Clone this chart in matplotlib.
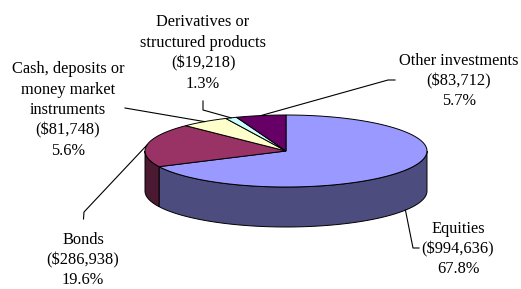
import numpy as np
import matplotlib
matplotlib.use('Agg')
import matplotlib.pyplot as plt
from matplotlib.patches import Polygon

# data
names = ['Equities', 'Bonds', 'Cash, deposits or\nmoney market\ninstruments',
         'Derivatives or\nstructured products', 'Other investments']
amounts = [994636, 286938, 81748, 19218, 83712]
pcts = ['67.8%', '19.6%', '5.6%', '1.3%', '5.7%']
top_colors = ['#9999FF', '#993366', '#FFFFCC', '#CCFFFF', '#660066']
side_colors = ['#4C4C7F', '#4C1933', '#7F7F66', '#667F7F', '#330033']

# pie geometry (pixels)
cx, cy = 286, 151
a, b = 141, 36
depth = 40

def pt(t, dy=0):
    r = np.radians(t)
    return cx + a * np.cos(r), cy - b * np.sin(r) + dy

fig = plt.figure(figsize=(5.21, 2.89), dpi=100)
ax = fig.add_axes([0, 0, 1, 1])
ax.set_xlim(0, 521)
ax.set_ylim(289, 0)
ax.axis('off')

frac = np.array(amounts) / sum(amounts)
ends = 90 - 360 * np.cumsum(frac)
starts = np.concatenate([[90], ends[:-1]])

# sides (front half only)
for i in range(len(amounts)):
    t1, t2 = ends[i] % 360, starts[i] % 360
    if t2 < t1:
        t2 += 360
    for off in (0, 360, -360):
        lo = max(t1 + off, 180)
        hi = min(t2 + off, 360)
        if hi > lo:
            ts = np.linspace(lo, hi, 60)
            top = [pt(t) for t in ts]
            bot = [pt(t, depth) for t in ts[::-1]]
            ax.add_patch(Polygon(top + bot, closed=True, fc=side_colors[i],
                                 ec='black', lw=0.7, zorder=1))

# top faces
for i in range(len(amounts)):
    ts = np.linspace(starts[i], ends[i], 120)
    verts = [(cx, cy)] + [pt(t) for t in ts]
    ax.add_patch(Polygon(verts, closed=True, fc=top_colors[i],
                         ec='black', lw=0.7, zorder=2))

# labels
font = dict(family='Liberation Serif', fontsize=11.8, ha='center', va='center',
            linespacing=1.36, color='black')
lab_pos = [(458, 249), (83, 260), (68, 110), (203, 53), (459, 81)]
for i in range(len(amounts)):
    txt = '%s\n($%s)\n%s' % (names[i], format(amounts[i], ','), pcts[i])
    ax.text(lab_pos[i][0], lab_pos[i][1], txt, **font)

lw = 0.8
mid = (starts + ends) / 2
# Equities
x0, y0 = pt(mid[0], depth)
ax.plot([419, 413, x0], [248, 248, y0], color='black', lw=lw)
# Bonds
x0, y0 = pt(mid[1])
ax.plot([83.5, 84, x0], [219, 212, y0], color='black', lw=lw)
# Cash
x0, y0 = pt(mid[2])
ax.plot([125, x0], [108, y0], color='black', lw=lw)
# Derivatives
x0, y0 = pt(mid[3])
ax.plot([203, 203, x0], [101, 110, y0], color='black', lw=lw)
# Other
x0, y0 = pt(mid[4])
ax.plot([395, 388, x0], [80, 80, y0], color='black', lw=lw)

fig.savefig('out.png', dpi=100)
